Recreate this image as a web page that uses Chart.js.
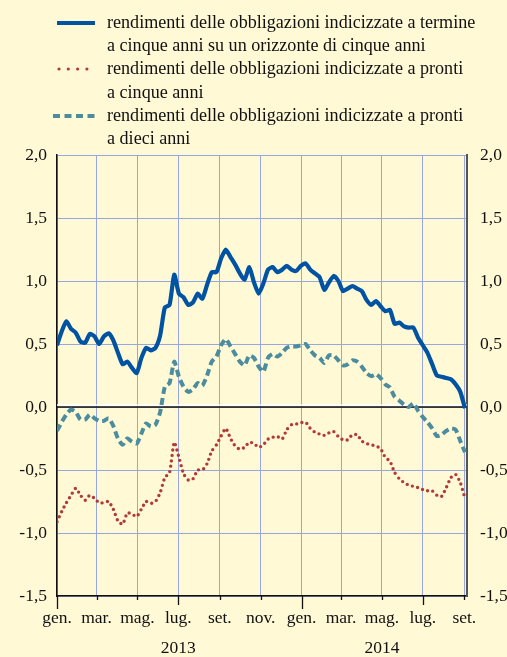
<!DOCTYPE html>
<html>
<head>
<meta charset="utf-8">
<script src="https://cdn.jsdelivr.net/npm/chart.js@4.4.1/dist/chart.umd.min.js"></script>
<style>
  html, body { margin: 0; padding: 0; background: #fff9d6; }
  #wrap { position: relative; width: 507px; height: 657px; }
  #myChart { display: block; }
  #legend { position: absolute; left: 0; top: 11px; font-family: "Liberation Serif", serif; font-size: 18.1px; line-height: 23.2px; color: #111; white-space: nowrap; }
  .item { position: relative; padding-left: 107px; }
  .item svg { position: absolute; left: 53px; top: 6px; }
</style>
</head>
<body>
<div id="wrap">
  <canvas id="myChart" width="507" height="657"></canvas>
  <div id="legend"></div>
</div>
<script>
// weekly observations, Jan 2013 - Sep 2014
const weeks = [
  "2013-01-01","2013-01-08","2013-01-15","2013-01-22","2013-01-29",
  "2013-02-05","2013-02-12","2013-02-19","2013-02-26",
  "2013-03-05","2013-03-12","2013-03-19","2013-03-26",
  "2013-04-02","2013-04-09","2013-04-16","2013-04-23","2013-04-30",
  "2013-05-07","2013-05-14","2013-05-21","2013-05-28",
  "2013-06-04","2013-06-11","2013-06-18","2013-06-25",
  "2013-07-02","2013-07-09","2013-07-16","2013-07-23","2013-07-30",
  "2013-08-06","2013-08-13","2013-08-20","2013-08-27",
  "2013-09-03","2013-09-10","2013-09-17","2013-09-24",
  "2013-10-01","2013-10-08","2013-10-15","2013-10-22","2013-10-29",
  "2013-11-05","2013-11-12","2013-11-19","2013-11-26",
  "2013-12-03","2013-12-10","2013-12-17","2013-12-24","2013-12-31",
  "2014-01-07","2014-01-14","2014-01-21","2014-01-28",
  "2014-02-04","2014-02-11","2014-02-18","2014-02-25",
  "2014-03-04","2014-03-11","2014-03-18","2014-03-25",
  "2014-04-01","2014-04-08","2014-04-15","2014-04-22","2014-04-29",
  "2014-05-06","2014-05-13","2014-05-20","2014-05-27",
  "2014-06-03","2014-06-10","2014-06-17","2014-06-24",
  "2014-07-01","2014-07-08","2014-07-15","2014-07-22","2014-07-29",
  "2014-08-05","2014-08-12","2014-08-19","2014-08-26",
  "2014-09-02"
];

// 5y5y forward
const forward5y5y = [
  0.49, 0.60, 0.68, 0.62, 0.59, 0.52, 0.51, 0.58, 0.56, 0.50,
  0.56, 0.585, 0.53, 0.43, 0.34, 0.36, 0.31, 0.27, 0.39, 0.47,
  0.45, 0.47, 0.57, 0.79, 0.81, 1.05, 0.90, 0.87, 0.81, 0.83,
  0.90, 0.86, 0.97, 1.07, 1.07, 1.18, 1.25, 1.19, 1.13, 1.06,
  1.01, 1.11, 0.99, 0.90, 0.98, 1.09, 1.11, 1.07, 1.09, 1.12,
  1.09, 1.08, 1.12, 1.14, 1.09, 1.06, 1.03, 0.93, 0.99, 1.04,
  1.00, 0.92, 0.94, 0.96, 0.94, 0.92, 0.85, 0.81, 0.84, 0.80,
  0.76, 0.77, 0.66, 0.67, 0.64, 0.63, 0.63, 0.55, 0.49, 0.43,
  0.34, 0.25, 0.24, 0.23, 0.22, 0.18, 0.12, -0.01
];

// spot 5 years
const spot5y = [
  -0.91, -0.83, -0.76, -0.70, -0.645, -0.70, -0.74, -0.70, -0.725, -0.76,
  -0.76, -0.75, -0.81, -0.905, -0.93, -0.84, -0.85, -0.87, -0.81, -0.75,
  -0.765, -0.75, -0.68, -0.56, -0.52, -0.28, -0.40, -0.53, -0.58, -0.57,
  -0.50, -0.50, -0.45, -0.35, -0.30, -0.23, -0.17, -0.25, -0.31, -0.335,
  -0.32, -0.28, -0.29, -0.32, -0.30, -0.255, -0.24, -0.235, -0.255, -0.18,
  -0.14, -0.135, -0.125, -0.12, -0.17, -0.20, -0.215, -0.225, -0.205, -0.195,
  -0.235, -0.26, -0.26, -0.22, -0.22, -0.27, -0.29, -0.30, -0.31, -0.33,
  -0.40, -0.43, -0.52, -0.57, -0.60, -0.62, -0.63, -0.64, -0.655, -0.665,
  -0.665, -0.70, -0.71, -0.64, -0.56, -0.535, -0.60, -0.725
];

// spot 10 years
const spot10y = [
  -0.19, -0.12, -0.06, -0.02, -0.04, -0.10, -0.10, -0.06, -0.09, -0.11,
  -0.11, -0.09, -0.15, -0.25, -0.30, -0.25, -0.275, -0.29, -0.21, -0.13,
  -0.155, -0.14, -0.04, 0.16, 0.19, 0.36, 0.24, 0.16, 0.12, 0.14,
  0.19, 0.17, 0.25, 0.36, 0.40, 0.49, 0.54, 0.48, 0.42, 0.36,
  0.33, 0.41, 0.39, 0.32, 0.28, 0.39, 0.42, 0.40, 0.43, 0.47,
  0.48, 0.48, 0.49, 0.50, 0.45, 0.41, 0.39, 0.35, 0.41, 0.41,
  0.37, 0.33, 0.34, 0.37, 0.36, 0.32, 0.27, 0.245, 0.26, 0.23,
  0.18, 0.155, 0.08, 0.05, 0.02, 0.00, 0.03, -0.03, -0.08, -0.12,
  -0.17, -0.23, -0.22, -0.19, -0.17, -0.18, -0.27, -0.36
];

const monthTicks = ["2013-01-01","2013-03-01","2013-05-01","2013-07-01","2013-09-01","2013-11-01",
  "2014-01-01","2014-03-01","2014-05-01","2014-07-01","2014-09-01"];
const monthLabels = ["gen.","mar.","mag.","lug.","set.","nov.","gen.","mar.","mag.","lug.","set."];
// year written under the middle tick of each year
const yearLabels = ["", "", "", "2013", "", "", "", "", "2014", "", ""];

const legendLabels = [
  ["rendimenti delle obbligazioni indicizzate a termine", "a cinque anni su un orizzonte di cinque anni"],
  ["rendimenti delle obbligazioni indicizzate a pronti", "a cinque anni"],
  ["rendimenti delle obbligazioni indicizzate a pronti", "a dieci anni"]
];

const BLUE = "#0052a2";
const RED = "#b23a36";
const TEAL = "#4b8c9e";
const GRID = "#97a6de";
const FONT = "Liberation Serif";

function dayOf(s) {
  const p = s.split("-");
  return (Date.UTC(+p[0], +p[1] - 1, +p[2]) - Date.UTC(2013, 0, 1)) / 86400000;
}

function pts(values) {
  return values.map((v, i) => ({ x: dayOf(weeks[i]), y: v }));
}

const tickDays = monthTicks.map(dayOf);

// legend
const samples = [
  '<svg width="44" height="12"><line x1="4" y1="6" x2="42" y2="6" stroke="' + BLUE + '" stroke-width="4"/></svg>',
  '<svg width="44" height="12"><line x1="6" y1="6" x2="36" y2="6" stroke="' + RED + '" stroke-width="3.2" stroke-linecap="round" stroke-dasharray="0 9.3"/></svg>',
  '<svg width="44" height="12"><line x1="0" y1="6" x2="42" y2="6" stroke="' + TEAL + '" stroke-width="4" stroke-dasharray="7 4.5"/></svg>'
];
let html = "";
legendLabels.forEach((lines, i) => {
  html += '<div class="item">' + samples[i] + lines.join("<br>") + "</div>";
});
document.getElementById("legend").innerHTML = html;

const axisExtras = {
  id: "axisExtras",
  beforeDatasetsDraw(chart) {
    const ctx = chart.ctx;
    const y0 = chart.scales.y.getPixelForValue(0);
    const a = chart.chartArea;
    ctx.save();
    ctx.strokeStyle = "#ffffff";
    ctx.lineWidth = 1.5;
    ctx.beginPath();
    ctx.moveTo(a.left, y0 - 2);
    ctx.lineTo(a.right, y0 - 2);
    ctx.stroke();
    ctx.strokeStyle = "#111";
    ctx.lineWidth = 1.5;
    ctx.beginPath();
    ctx.moveTo(a.left, y0);
    ctx.lineTo(a.right, y0);
    ctx.stroke();
    ctx.restore();
  },
  afterDraw(chart) {
    const ctx = chart.ctx;
    const x = chart.scales.x;
    const a = chart.chartArea;
    ctx.save();
    ctx.strokeStyle = "#111";
    ctx.lineWidth = 1.3;
    tickDays.forEach((d, i) => {
      const px = Math.round(x.getPixelForValue(d)) + 0.5;
      let len = 4;
      if (monthLabels[i] === "gen.") len = 13;
      else if (monthLabels[i] === "lug.") len = 9;
      ctx.beginPath();
      ctx.moveTo(px, a.bottom);
      ctx.lineTo(px, a.bottom + len);
      ctx.stroke();
    });
    ctx.restore();
  }
};

const yTicks = {
  stepSize: 0.5,
  color: "#111",
  font: { family: FONT, size: 17.5 },
  callback: (v) => v.toFixed(1).replace(".", ",")
};

new Chart(document.getElementById("myChart"), {
  type: "line",
  data: {
    datasets: [
      {
        label: legendLabels[2].join(" "),
        data: pts(spot10y),
        borderColor: TEAL,
        borderWidth: 4,
        borderDash: [7, 4],
        pointRadius: 0,
        tension: 0.2
      },
      {
        label: legendLabels[1].join(" "),
        data: pts(spot5y),
        borderColor: RED,
        borderWidth: 3.4,
        borderDash: [0, 5.4],
        borderCapStyle: "round",
        pointRadius: 0,
        tension: 0.2
      },
      {
        label: legendLabels[0].join(" "),
        data: pts(forward5y5y),
        borderColor: BLUE,
        borderWidth: 4.2,
        borderJoinStyle: "round",
        pointRadius: 0,
        tension: 0.2
      }
    ]
  },
  plugins: [axisExtras],
  options: {
    responsive: false,
    animation: false,
    layout: { padding: { top: 155, left: 0, right: 0, bottom: 0 } },
    plugins: { legend: { display: false }, tooltip: { enabled: false } },
    scales: {
      x: {
        type: "linear",
        min: 0,
        max: 612,
        afterBuildTicks: (scale) => { scale.ticks = tickDays.map((d) => ({ value: d })); },
        afterFit: (scale) => { scale.height = 61; },
        grid: { color: GRID, lineWidth: 1, drawTicks: false },
        border: { display: true, color: "#111", width: 1.5 },
        ticks: {
          autoSkip: false,
          maxRotation: 0,
          padding: 7,
          color: "#111",
          font: { family: FONT, size: 17.5, lineHeight: 1.72 },
          callback: (v, i) => yearLabels[i] ? [monthLabels[i], yearLabels[i]] : monthLabels[i]
        }
      },
      y: {
        position: "left",
        min: -1.5,
        max: 2,
        afterFit: (scale) => { scale.width = 57; },
        grid: { color: GRID, lineWidth: 1, drawTicks: false },
        border: { display: true, color: "#111", width: 1.5 },
        ticks: Object.assign({ padding: 10 }, yTicks)
      },
      y2: {
        position: "right",
        min: -1.5,
        max: 2,
        afterFit: (scale) => { scale.width = 40; },
        grid: { drawOnChartArea: false, drawTicks: false },
        border: { display: true, color: "#555", width: 2 },
        ticks: Object.assign({ padding: 13 }, yTicks)
      }
    }
  }
});
</script>
</body>
</html>
